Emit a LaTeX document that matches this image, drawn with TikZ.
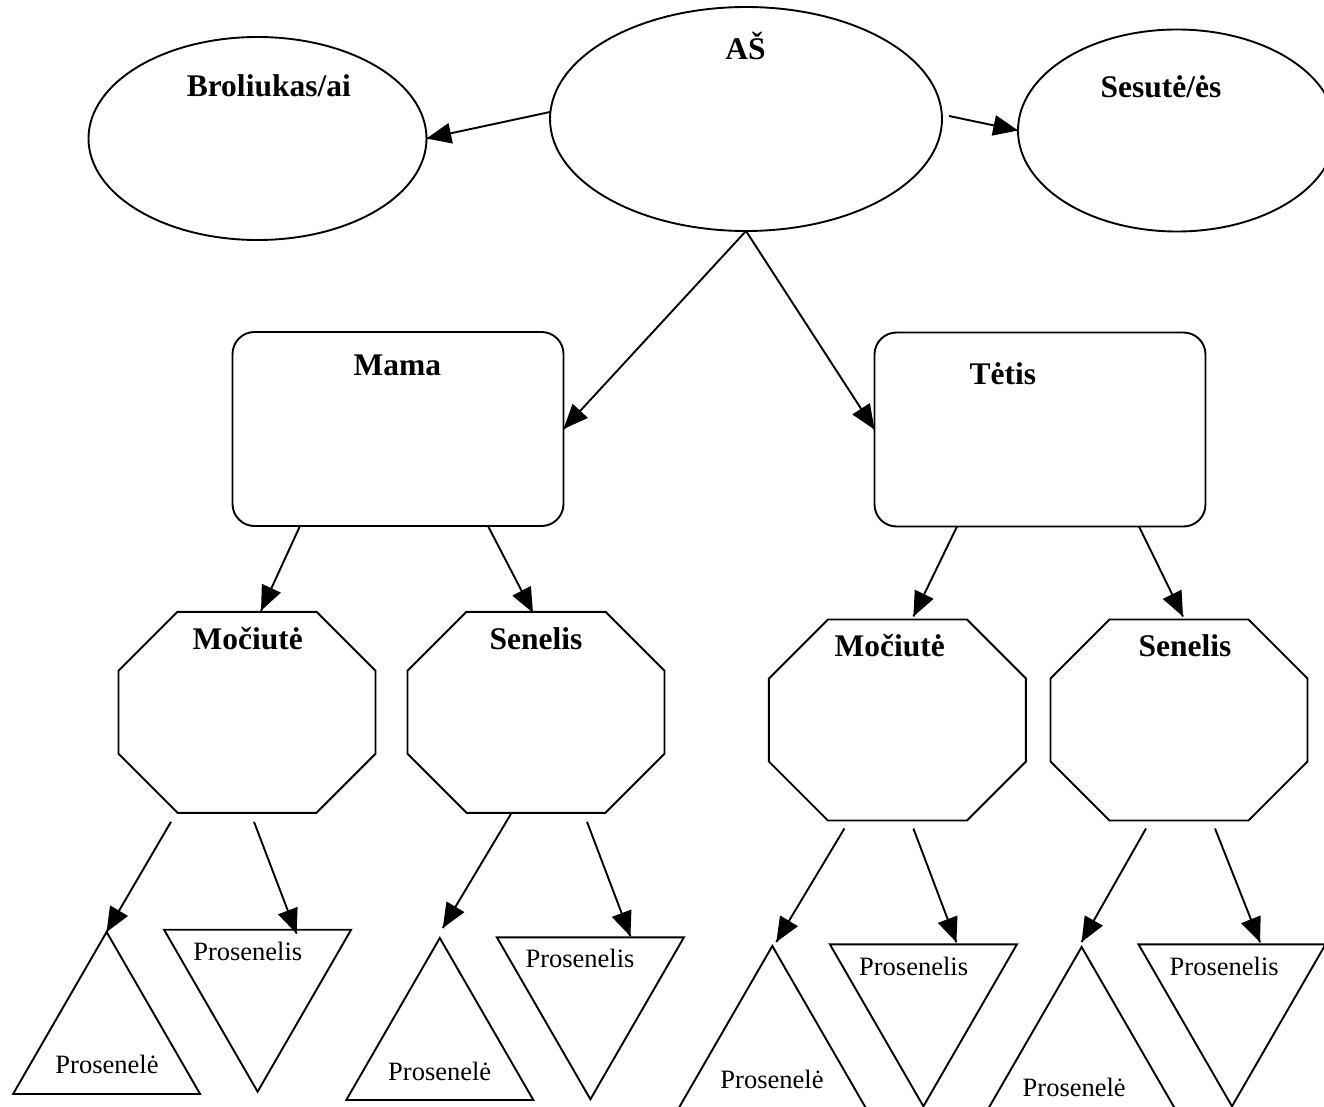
\documentclass[tikz,border=0pt]{standalone}
\usepackage{fontspec}
\setmainfont{Liberation Serif}
\usepackage{tikz}
\usetikzlibrary{arrows}
\usetikzlibrary{decorations.markings}
\usetikzlibrary{shapes.geometric}
\usetikzlibrary{calc}
\tikzset{->/.style = {decoration={markings,
                                  mark=at position 1 with {\arrow[scale=2]{triangle 45}}},
                      postaction={decorate}}}
\tikzset{oval/.style = {draw, ellipse, inner sep = 0, outer sep = 0}}
\tikzset{parent/.style = {draw, rectangle, rounded corners = 22pt, inner sep = 0, outer sep = 0,
                          minimum width = 331pt, minimum height = 194pt}}
\tikzset{octo/.style = {rectangle, inner sep = 0, outer sep = 0, minimum width = 257pt, minimum height = 201pt}}
\tikzset{up/.style = {draw, regular polygon, regular polygon sides = 3, inner sep = 0, outer sep = 0,
                      minimum size = 216pt}}
\tikzset{down/.style = {up, shape border rotate = 180}}
\tikzset{headtext/.style = {anchor = base, inner sep = 0, font = \bfseries\fontsize{31.5}{36}\selectfont}}
\tikzset{plaintext/.style = {anchor = base, inner sep = 0, font = \fontsize{26.5}{30}\selectfont}}

\begin{document}
\begin{tikzpicture}[x = 1pt, y = -1pt, line width = 1.9pt]
    \useasboundingbox (0, 0) rectangle (1324, 1107);

    \node [oval, minimum width = 392pt, minimum height = 224pt] (as) at (746, 119) {};
    \node [oval, minimum width = 338pt, minimum height = 203pt] (brol) at (257.5, 138.5) {};
    \node [oval, minimum width = 318pt, minimum height = 202pt] (ses) at (1177, 130.5) {};
    \node [headtext] (asL) at (745.5, 60) {AŠ};
    \node [headtext] (brolL) at (268.8, 97) {Broliukas/ai};
    \node [headtext] (sesL) at (1161, 97.3) {Sesutė/ės};

    \node [parent] (mama) at (398, 429) {};
    \node [parent] (tetis) at (1040, 429.5) {};
    \node [headtext] (mamaL) at (397.4, 375) {Mama};
    \node [headtext] (tetisL) at (1002.8, 384) {Tėtis};

    \node [octo] (m1) at (247, 712.3) {};
    \node [octo] (s1) at (536, 712.3) {};
    \node [octo] (m2) at (897.4, 720) {};
    \node [octo] (s2) at (1179, 720) {};
    \foreach \n in {m1, s1, m2, s2}
        \draw ([xshift=59pt]\n.north west) -- ([xshift=-59pt]\n.north east) -- ([yshift=-59pt]\n.north east)
              -- ([yshift=59pt]\n.south east) -- ([xshift=-59pt]\n.south east) -- ([xshift=59pt]\n.south west)
              -- ([yshift=59pt]\n.south west) -- ([yshift=-59pt]\n.north west) -- cycle;
    \node [headtext] (m1L) at (247.8, 649) {Močiutė};
    \node [headtext] (s1L) at (536, 649) {Senelis};
    \node [headtext] (m2L) at (889.7, 656) {Močiutė};
    \node [headtext] (s2L) at (1185, 656) {Senelis};

    \node [up] (p1) at (106.6, 1040) {};
    \node [down] (q1) at (257.6, 983.7) {};
    \node [up] (p2) at (439.8, 1046) {};
    \node [down] (q2) at (590.4, 991.3) {};
    \node [up] (p3) at (772.3, 1054) {};
    \node [down] (q3) at (923.4, 998.3) {};
    \node [up] (p4) at (1081.6, 1055) {};
    \node [down] (q4) at (1232, 998.3) {};
    \node [plaintext] (p1L) at (107, 1073) {Prosenelė};
    \node [plaintext] (q1L) at (247.8, 960.7) {Prosenelis};
    \node [plaintext] (p2L) at (439.7, 1080.7) {Prosenelė};
    \node [plaintext] (q2L) at (580, 967.3) {Prosenelis};
    \node [plaintext] (p3L) at (772, 1088.3) {Prosenelė};
    \node [plaintext] (q3L) at (913.6, 975.7) {Prosenelis};
    \node [plaintext] (p4L) at (1074.2, 1096.7) {Prosenelė};
    \node [plaintext] (q4L) at (1224.2, 975.7) {Prosenelis};

    \draw [->] ($(as.west) + (0, -7)$) -- (brol.east);
    \draw [->] ($(as.east) + (7, -3)$) -- (ses.west);
    \draw [->] (as.south) -- (mama.east);
    \draw [->] (as.south) -- (tetis.west);

    \draw [->] ($(mama.south) + (-98, 0)$) -- ($(m1.north) + (14, -1)$);
    \draw [->] ($(mama.south) + (90, 0)$) -- ($(s1.north) + (-3, 1)$);
    \draw [->] ($(tetis.south) + (-83, 0)$) -- ($(m2.north) + (16, -3)$);
    \draw [->] ($(tetis.south) + (99, 0)$) -- ($(s2.north) + (4, -3)$);

    \draw [->] ($(m1.south) + (-76, 9)$) -- (p1.corner 1);
    \draw [->] ($(m1.south) + (7, 9)$) -- ($(q1.center) + (39, -50)$);
    \draw [->] ($(s1.south) + (-25, 1)$) -- ($(p2.corner 1) + (3, -10)$);
    \draw [->] ($(s1.south) + (51, 9)$) -- ($(q2.center) + (40, -55)$);
    \draw [->] ($(m2.south) + (-53, 8)$) -- ($(p3.corner 1) + (4, -4)$);
    \draw [->] ($(m2.south) + (16, 8)$) -- ($(q3.center) + (33, -56)$);
    \draw [->] ($(s2.south) + (-33, 8)$) -- ($(p4.corner 1) + (0, -5)$);
    \draw [->] ($(s2.south) + (36, 8)$) -- ($(q4.center) + (28, -56)$);
\end{tikzpicture}
\end{document}
